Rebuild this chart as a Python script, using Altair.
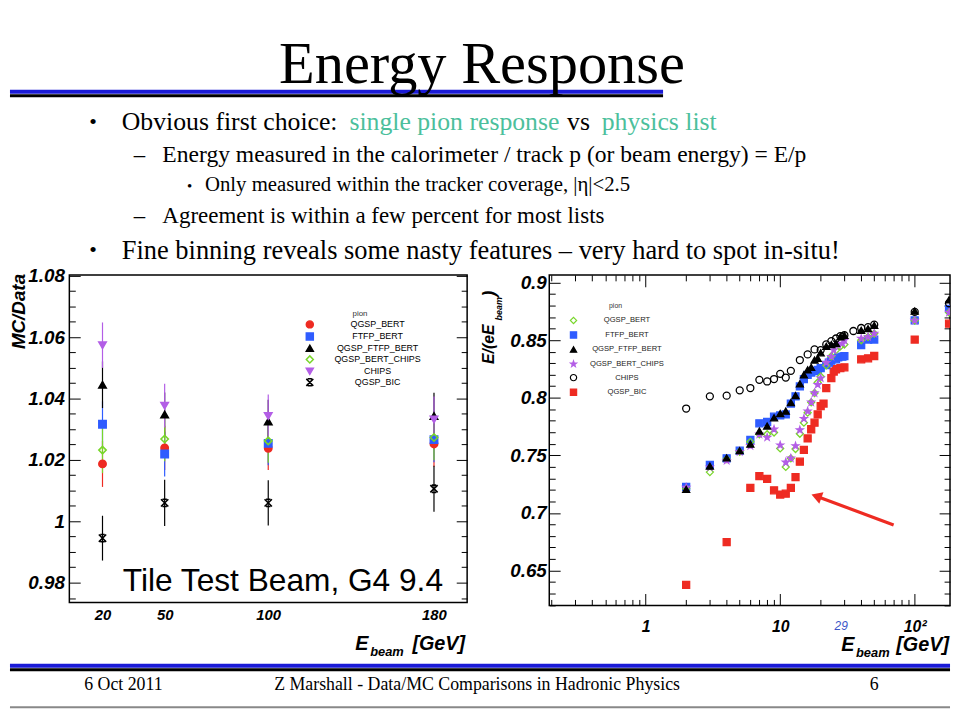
import altair as alt
import pandas as pd

# ------------------------------------------------------------------ data
SERIES = ["QGSP_BERT", "FTFP_BERT", "QGSP_FTFP_BERT", "QGSP_BERT_CHIPS", "CHIPS", "QGSP_BIC"]

# Left panel: MC/Data vs E_beam (Tile test beam, G4 9.4)
L_E = [20, 50, 100, 180]
L_QGSP_BERT = [1.0187, 1.0239, 1.0238, 1.0252]
L_FTFP_BERT = [1.0316, 1.0219, 1.0254, 1.0266]
L_QGSP_FTFP_BERT = [1.0445, 1.0348, 1.0325, 1.0343]
L_QGSP_BERT_CHIPS = [1.0232, 1.0268, 1.0262, 1.0273]
L_CHIPS = [1.0574, 1.0377, 1.0343, 1.0332]
L_QGSP_BIC = [0.9945, 1.0060, 1.0060, 1.0106]
L_ERR_QGSP_BERT = [0.0075, 0.0072, 0.0071, 0.0074]
L_ERR_FTFP_BERT = [0.0075, 0.0073, 0.0071, 0.0074]
L_ERR_QGSP_FTFP_BERT = [0.0076, 0.0072, 0.0071, 0.0076]
L_ERR_QGSP_BERT_CHIPS = [0.0075, 0.0072, 0.0071, 0.0074]
L_ERR_CHIPS = [0.0074, 0.0071, 0.0070, 0.0075]
L_ERR_QGSP_BIC = [0.0073, 0.0075, 0.0074, 0.0075]

# Right panel: E/(eE_beam) vs E_beam
R_QGSP_BERT_E = [2, 3, 4, 5, 6, 7, 8, 9, 10, 11, 12, 13, 14, 15, 16, 17, 18, 19, 20, 22, 24, 26, 28, 30, 40, 45, 50, 100, 180]
R_QGSP_BERT = [0.7210, 0.7354, 0.7466, 0.7531, 0.7617, 0.7683, 0.7683, 0.7698, 0.7560, 0.7399, 0.7474, 0.7554, 0.7687,
               0.7783, 0.7870, 0.7960, 0.8041, 0.8132, 0.8184, 0.8280, 0.8360, 0.8413, 0.8445, 0.8462, 0.8499, 0.8528,
               0.8557, 0.8670, 0.8740]
R_FTFP_BERT_E = [2, 3, 4, 5, 6, 7, 8, 9, 10, 11, 12, 13, 14, 15, 16, 17, 18, 19, 20, 22, 23, 24, 26, 27, 29, 30, 40, 45, 50, 100, 180]
R_FTFP_BERT = [0.7225, 0.7417, 0.7474, 0.7540, 0.7634, 0.7778, 0.7789, 0.7835, 0.7846, 0.7855, 0.7949, 0.8012, 0.8098,
               0.8162, 0.8198, 0.8218, 0.8230, 0.8241, 0.8256, 0.8284, 0.8304, 0.8321, 0.8333, 0.8350, 0.8356, 0.8360,
               0.8456, 0.8505, 0.8505, 0.8671, 0.8771]
R_QGSP_FTFP_BERT_E = [2, 3, 4, 5, 6, 7, 8, 9, 10, 11, 12, 13, 14, 15, 16, 17, 18, 19, 20, 22, 24, 26, 28, 30, 40, 45, 50, 100, 180]
R_QGSP_FTFP_BERT = [0.7205, 0.7406, 0.7477, 0.7540, 0.7597, 0.7711, 0.7754, 0.7826, 0.7863, 0.7883, 0.7957, 0.8018, 0.8120,
                    0.8198, 0.8241, 0.8264, 0.8327, 0.8342, 0.8390, 0.8445, 0.8462, 0.8471, 0.8528, 0.8542, 0.8585, 0.8599,
                    0.8628, 0.8751, 0.8849]
R_QGSP_BERT_CHIPS_E = [2, 3, 4, 5, 6, 7, 8, 9, 10, 11, 12, 13, 14, 15, 16, 17, 18, 19, 20, 22, 24, 25, 27, 29, 30, 40, 45, 50, 100, 180]
R_QGSP_BERT_CHIPS = [0.7220, 0.7397, 0.7454, 0.7531, 0.7583, 0.7683, 0.7655, 0.7726, 0.7588, 0.7440, 0.7474, 0.7582, 0.7720,
                     0.7818, 0.7883, 0.7960, 0.8041, 0.8113, 0.8170, 0.8304, 0.8356, 0.8413, 0.8456, 0.8471, 0.8499, 0.8514,
                     0.8528, 0.8557, 0.8670, 0.8740]
R_CHIPS_E = [2, 3, 4, 5, 6, 7, 8, 9, 10, 11, 12, 14, 16, 18, 20, 22, 24, 26, 28, 30, 35, 40, 45, 50, 100, 180]
R_CHIPS = [0.7906, 0.8012, 0.8018, 0.8064, 0.8084, 0.8155, 0.8141, 0.8162, 0.8207, 0.8175, 0.8233, 0.8327, 0.8376, 0.8419,
           0.8413, 0.8462, 0.8491, 0.8514, 0.8534, 0.8542, 0.8579, 0.8605, 0.8613, 0.8634, 0.8745, 0.8820]
R_QGSP_BIC_E = [2, 4, 6, 7, 8, 9, 10, 11, 12, 13, 14, 15, 16, 17, 18, 19, 20, 21, 22, 24, 25, 26, 28, 30, 40, 45, 50, 100, 180]
R_QGSP_BIC = [0.6375, 0.6747, 0.7217, 0.7320, 0.7296, 0.7196, 0.7159, 0.7167, 0.7217, 0.7311, 0.7445, 0.7548, 0.7646,
              0.7726, 0.7783, 0.7855, 0.7926, 0.7949, 0.8084, 0.8170, 0.8227, 0.8247, 0.8256, 0.8264, 0.8333, 0.8342,
              0.8362, 0.8505, 0.8643]

# red arrow annotation (data coordinates of tail and head)
ARROW_E = [69.7, 18.6]
ARROW_V = [0.6895, 0.7145]

# axis ticks / labels
L_XLABELS = [20, 50, 100, 180]
L_YMAJOR = [0.98, 1.0, 1.02, 1.04, 1.06, 1.08]
L_YMINOR = [0.975, 0.985, 0.99, 0.995, 1.005, 1.01, 1.015, 1.025, 1.03, 1.035, 1.045, 1.05, 1.055, 1.065, 1.07, 1.075]
R_XMAJOR = [1, 10, 100]
R_XMINOR = [0.2, 0.3, 0.4, 0.5, 0.6, 0.7, 0.8, 0.9, 2, 3, 4, 5, 6, 7, 8, 9, 20, 30, 40, 50, 60, 70, 80, 90]
R_YMAJOR = [0.65, 0.7, 0.75, 0.8, 0.85, 0.9]
R_YMINOR = [0.62, 0.63, 0.64, 0.66, 0.67, 0.68, 0.69, 0.71, 0.72, 0.73, 0.74, 0.76, 0.77, 0.78, 0.79,
            0.81, 0.82, 0.83, 0.84, 0.86, 0.87, 0.88, 0.89]

# ------------------------------------------------------------------ styles
RED, BLUE, GREEN, VIOLET, BLACK = "#ee2b22", "#2f5cff", "#78d62a", "#b35ee6", "#000000"
TEAL = "#4cbf9c"
LINEBLUE = "#1a1ad6"
STAR = ("M0,-1L0.235,-0.324L0.951,-0.309L0.38,0.124L0.588,0.809L0,0.4L-0.588,0.809"
        "L-0.38,0.124L-0.951,-0.309L-0.235,-0.324Z")
ASTER = "M-1,-1L1,1M-1,1L1,-1M-0.6,-1L0.6,-1M-0.6,1L0.6,1"

L_SHAPES = ["circle", "square", "triangle-up", "diamond", "triangle-down", ASTER]
L_FILLS = [RED, BLUE, BLACK, "transparent", VIOLET, "transparent"]
L_STROKES = [RED, BLUE, BLACK, GREEN, VIOLET, BLACK]
L_BARS = [RED, BLUE, BLACK, GREEN, VIOLET, BLACK]

R_SHAPES = ["diamond", "square", "triangle-up", STAR, "circle", "square"]
R_FILLS = ["transparent", BLUE, BLACK, VIOLET, "transparent", RED]
R_STROKES = [GREEN, BLUE, BLACK, VIOLET, BLACK, RED]

SANS = "Liberation Sans"
SERIF = "Liberation Serif"

# ------------------------------------------------------------------ tables
left_vals = [L_QGSP_BERT, L_FTFP_BERT, L_QGSP_FTFP_BERT, L_QGSP_BERT_CHIPS, L_CHIPS, L_QGSP_BIC]
left_errs = [L_ERR_QGSP_BERT, L_ERR_FTFP_BERT, L_ERR_QGSP_FTFP_BERT, L_ERR_QGSP_BERT_CHIPS, L_ERR_CHIPS, L_ERR_QGSP_BIC]
rows = []
for name, vals, errs, bc in zip(SERIES, left_vals, left_errs, L_BARS):
    for e, v, er in zip(L_E, vals, errs):
        rows.append({"series": name, "E": e, "value": v, "lo": v - er, "hi": v + er, "barcolor": bc})
left_df = pd.DataFrame(rows)

right_sets = {
    "QGSP_BIC": (R_QGSP_BIC_E, R_QGSP_BIC),
    "FTFP_BERT": (R_FTFP_BERT_E, R_FTFP_BERT),
    "QGSP_BERT": (R_QGSP_BERT_E, R_QGSP_BERT),
    "QGSP_BERT_CHIPS": (R_QGSP_BERT_CHIPS_E, R_QGSP_BERT_CHIPS),
    "QGSP_FTFP_BERT": (R_QGSP_FTFP_BERT_E, R_QGSP_FTFP_BERT),
    "CHIPS": (R_CHIPS_E, R_CHIPS),
}
rows = []
for name, (es, vs) in right_sets.items():
    for e, v in zip(es, vs):
        rows.append({"series": name, "E": e, "value": v})
right_df = pd.DataFrame(rows)
arrow_df = pd.DataFrame({"E": ARROW_E, "value": ARROW_V})
head_df = arrow_df.iloc[[1]]

ONE = pd.DataFrame({"k": [0]})


# ------------------------------------------------------------------ helpers
def txt(s, x, y, size, color="black", font=SERIF, align="left", baseline="alphabetic",
        weight="normal", style="normal", angle=None):
    kw = dict(align=align, baseline=baseline, font=font, fontSize=size, color=color,
              fontWeight=weight, fontStyle=style)
    if angle is not None:
        kw["angle"] = angle
    return alt.Chart(ONE).mark_text(**kw).encode(x=alt.value(x), y=alt.value(y), text=alt.value(s))


def hline(x1, x2, y, color, w):
    return alt.Chart(ONE).mark_rule(color=color, strokeWidth=w).encode(
        x=alt.value(x1), x2=alt.value(x2), y=alt.value(y))


def tick_axis(orient, values, size, offset):
    return alt.Axis(orient=orient, values=values, labels=False, ticks=True, tickSize=size,
                    offset=offset, domain=False, grid=False, title=None,
                    tickColor="black", tickWidth=1)


def label_axis(orient, values, size, pad, fmt="~g", expr=None):
    kw = dict(orient=orient, values=values, labels=True, ticks=False, domain=False, grid=False,
              title=None, format=fmt, labelFont=SANS, labelFontSize=size, labelFontWeight="bold",
              labelFontStyle="italic", labelColor="black", labelPadding=pad, labelFlush=False,
              labelOverlap=False)
    if expr:
        kw["labelExpr"] = expr
    return alt.Axis(**kw)


# ------------------------------------------------------------------ left panel
LW, LH = 402, 331
lx = alt.Scale(domain=[4, 196], nice=False, zero=False)
ly = alt.Scale(domain=[0.97355, 1.0803], nice=False, zero=False)

leg_l = alt.Legend(orient="none", legendX=238.5, legendY=45.5, title=None, labelAlign="center",
                   labelOffset=64, labelFont=SANS, labelFontSize=9, labelColor="black",
                   symbolSize=50, symbolStrokeWidth=1.5, rowPadding=-2.8, padding=0)

bars = alt.Chart(left_df).mark_rule(strokeWidth=1.2).encode(
    x=alt.X("E:Q", scale=lx, axis=label_axis("bottom", L_XLABELS, 15, 5, fmt="d")),
    y=alt.Y("lo:Q", scale=ly, axis=label_axis("left", L_YMAJOR, 19, 5)),
    y2="hi:Q",
    color=alt.Color("barcolor:N", scale=None),
)
pts_l = alt.Chart(left_df).mark_point(opacity=1, strokeWidth=1.6, size=55).encode(
    x=alt.X("E:Q", scale=lx, axis=None),
    y=alt.Y("value:Q", scale=ly, axis=tick_axis("left", L_YMAJOR, 11, -11)),
    shape=alt.Shape("series:N", scale=alt.Scale(domain=SERIES, range=L_SHAPES), legend=leg_l),
    fill=alt.Fill("series:N", scale=alt.Scale(domain=SERIES, range=L_FILLS), legend=leg_l),
    stroke=alt.Stroke("series:N", scale=alt.Scale(domain=SERIES, range=L_STROKES), legend=leg_l),
)


def l_axis_layer(yaxis):
    return alt.Chart(left_df).mark_point(opacity=0, size=1).encode(
        x=alt.X("E:Q", scale=lx, axis=None), y=alt.Y("value:Q", scale=ly, axis=yaxis))


left = alt.layer(
    bars, pts_l,
    l_axis_layer(tick_axis("left", L_YMINOR, 6, -6)),
    l_axis_layer(tick_axis("right", L_YMAJOR, 11, -11)),
    l_axis_layer(tick_axis("right", L_YMINOR, 6, -6)),
    txt("pion", 293.7, 42, 8, color="#333333", font=SANS, align="center"),
    txt("Tile Test Beam, G4 9.4", 54, 319, 32, font=SANS),
    txt("MC/Data", -50.5, -1, 19, font=SANS, align="right", baseline="middle",
        weight="bold", style="italic", angle=270),
    txt("E", 289, 379, 20, font=SANS, weight="bold", style="italic"),
    txt("beam", 304, 385, 13, font=SANS, weight="bold", style="italic"),
    txt("[GeV]", 400, 379, 20, font=SANS, align="right", weight="bold", style="italic"),
).resolve_axis(x="independent", y="independent").properties(
    width=LW, height=LH, view=alt.ViewBackground(stroke="black", strokeWidth=1.5))

# ------------------------------------------------------------------ right panel
RW, RH = 405, 334
rx = alt.Scale(type="log", domain=[0.192, 183], nice=False)
ry = alt.Scale(domain=[0.6197, 0.9066], nice=False, zero=False)

leg_r = alt.Legend(orient="none", legendX=20.5, legendY=42, title=None, labelAlign="center",
                   labelOffset=50, labelFont=SANS, labelFontSize=7.7, labelColor="#222222",
                   symbolSize=40, symbolStrokeWidth=1.2, rowPadding=2.7, padding=0)

pts_r = alt.Chart(right_df).mark_point(opacity=1, strokeWidth=1.3, size=50, clip=True).encode(
    x=alt.X("E:Q", scale=rx, axis=label_axis("bottom", R_XMAJOR, 16, 13,
                                             expr="datum.value == 100 ? '10²' : datum.label")),
    y=alt.Y("value:Q", scale=ry, axis=label_axis("left", R_YMAJOR, 19, 3)),
    shape=alt.Shape("series:N", scale=alt.Scale(domain=SERIES, range=R_SHAPES), legend=leg_r),
    fill=alt.Fill("series:N", scale=alt.Scale(domain=SERIES, range=R_FILLS), legend=leg_r),
    stroke=alt.Stroke("series:N", scale=alt.Scale(domain=SERIES, range=R_STROKES), legend=leg_r),
)


def r_axis_layer(xaxis, yaxis):
    return alt.Chart(right_df).mark_point(opacity=0, size=1).encode(
        x=alt.X("E:Q", scale=rx, axis=xaxis), y=alt.Y("value:Q", scale=ry, axis=yaxis))


arrow_line = alt.Chart(arrow_df).mark_line(color=RED, strokeWidth=3.2).encode(
    x=alt.X("E:Q", scale=rx, axis=None), y=alt.Y("value:Q", scale=ry, axis=None))
arrow_head = alt.Chart(head_df).mark_point(shape="triangle-up", filled=True, opacity=1, size=150,
                                           angle=290, color=RED).encode(
    x=alt.X("E:Q", scale=rx, axis=None), y=alt.Y("value:Q", scale=ry, axis=None))

right = alt.layer(
    pts_r,
    r_axis_layer(tick_axis("bottom", R_XMAJOR, 12, -12), tick_axis("left", R_YMAJOR, 11, -11)),
    r_axis_layer(tick_axis("bottom", R_XMINOR, 6, -6), tick_axis("left", R_YMINOR, 6, -6)),
    r_axis_layer(tick_axis("top", R_XMAJOR, 12, -12), tick_axis("right", R_YMAJOR, 11, -11)),
    r_axis_layer(tick_axis("top", R_XMINOR, 6, -6), tick_axis("right", R_YMINOR, 6, -6)),
    arrow_line, arrow_head,
    txt("pion", 67, 33, 7, color="#333333", font=SANS, align="center"),
    txt("E/(eE", -61, 90, 16, font=SANS, align="left", baseline="middle",
        weight="bold", style="italic", angle=270),
    txt("beam", -51, 46, 9, font=SANS, align="left", baseline="middle",
        weight="bold", style="italic", angle=270),
    txt(")", -60, 22, 18, font=SANS, align="left", baseline="middle",
        weight="bold", style="italic", angle=270),
    txt("E", 295, 380, 20, font=SANS, weight="bold", style="italic"),
    txt("beam", 310, 386, 13, font=SANS, weight="bold", style="italic"),
    txt("[GeV]", 404, 380, 20, font=SANS, align="right", weight="bold", style="italic"),
    txt("29", 295, 359, 12, color="#3a55c8", font=SANS, align="center", style="italic"),
).resolve_axis(x="independent", y="independent").properties(
    width=RW, height=RH, view=alt.ViewBackground(stroke="black", strokeWidth=1.5))

# ------------------------------------------------------------------ slide text (header / footer)
# drawn in the first (empty) column; its origin sits at the top-left of the plots' row
HDR = -266   # slide top relative to the plot row
FTR = 334    # bottom of the plot row

page = alt.layer(
    hline(0, 2, HDR + 0.5, "white", 1),
    hline(0, 660, HDR + 85, "black", 3),
    hline(0, 660, HDR + 81, LINEBLUE, 4),
    txt("Energy Response", 477, HDR + 72, 59, align="center"),
    txt("•", 80, HDR + 119, 22),
    txt("Obvious first choice:", 113, HDR + 120, 26),
    txt("single pion response", 343, HDR + 120, 26, color=TEAL),
    txt("vs", 563, HDR + 120, 26),
    txt("physics list", 598, HDR + 120, 26, color=TEAL),
    txt("–", 125, HDR + 152, 23),
    txt("Energy measured in the calorimeter / track p (or beam energy) = E/p", 154, HDR + 152, 23.8),
    txt("•", 179, HDR + 181, 15),
    txt("Only measured within the tracker coverage, |η|<2.5", 197, HDR + 181, 21),
    txt("–", 125, HDR + 213.5, 23),
    txt("Agreement is within a few percent for most lists", 154, HDR + 213.5, 23.2),
    txt("•", 80, HDR + 248, 22),
    txt("Fine binning reveals some nasty features – very hard to spot in-situ!", 113, HDR + 249.5, 26.7),
    hline(0, 950, FTR + 65, "black", 3),
    hline(0, 950, FTR + 61, LINEBLUE, 4),
    txt("6 Oct 2011", 75, FTR + 86, 18),
    txt("Z Marshall - Data/MC Comparisons in Hadronic Physics", 267, FTR + 86, 18),
    txt("6", 869, FTR + 86, 18),
    hline(0, 950, FTR + 103, "#888888", 2),
).properties(width=60, height=334)


def spacer(w, h):
    return alt.Chart(ONE).mark_point(opacity=0).encode(x=alt.value(0), y=alt.value(0)).properties(
        width=w, height=h)


chart = alt.hconcat(
    page, left, spacer(83, 334), right, spacing=0, bounds="flush"
).resolve_scale(
    x="independent", y="independent", fill="independent", stroke="independent",
    shape="independent", color="independent"
).properties(padding=0).configure(font=SANS).configure_view(strokeWidth=0)

chart.save("out.html", embed_options={"renderer": "svg", "actions": False})
